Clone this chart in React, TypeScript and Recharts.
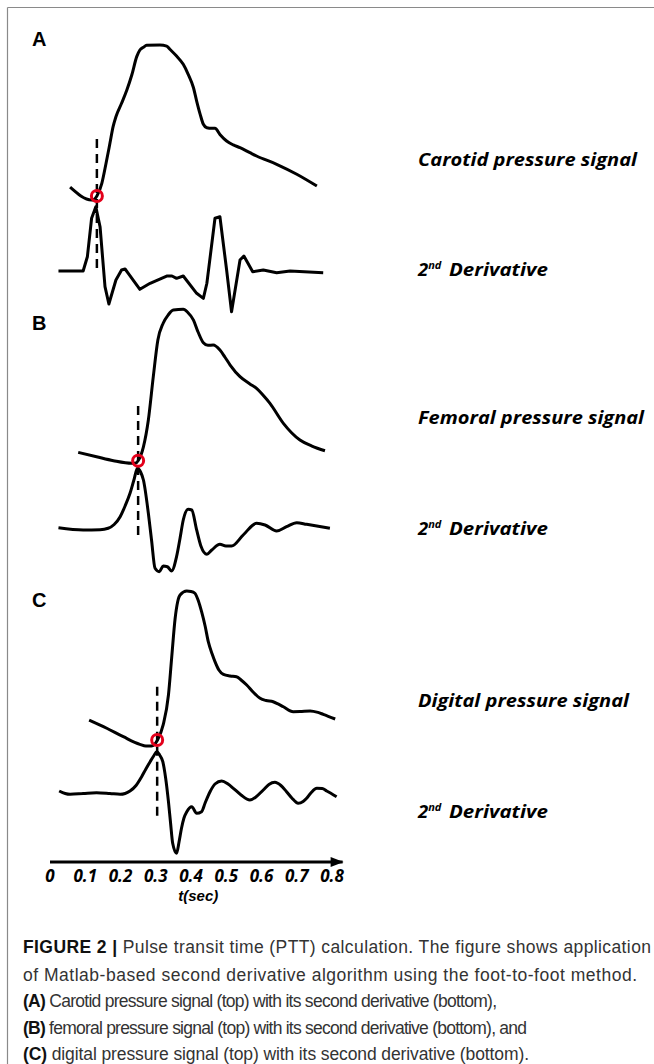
import React from 'react';
import { LineChart, Line, XAxis, YAxis, ReferenceLine, ReferenceDot, Label } from 'recharts';

// ---------- data (time in seconds, amplitude in normalised units) ----------
const timeTicks = [0, 0.1, 0.2, 0.3, 0.4, 0.5, 0.6, 0.7, 0.8];
const timeTickLabels = ['0', '0.1', '0.2', '0.3', '0.4', '0.5', '0.6', '0.7', '0.8'];

const carotidPressure: [number, number][] = [
  [0.057, 0.058], [0.118, -0.026], [0.125, -0.023], [0.133, 0], [0.147, 0.084], [0.159, 0.217],
  [0.170, 0.349], [0.179, 0.459], [0.187, 0.525], [0.203, 0.614], [0.218, 0.702], [0.232, 0.801],
  [0.246, 0.923], [0.255, 0.967], [0.265, 0.985], [0.274, 0.998], [0.312, 1.0], [0.331, 0.993],
  [0.340, 0.972], [0.359, 0.927], [0.378, 0.872], [0.392, 0.806], [0.407, 0.717], [0.416, 0.629],
  [0.426, 0.541], [0.435, 0.475], [0.445, 0.452], [0.459, 0.448], [0.468, 0.448], [0.482, 0.408],
  [0.501, 0.364], [0.520, 0.338], [0.539, 0.320], [0.567, 0.287], [0.586, 0.265], [0.643, 0.210],
  [0.700, 0.144], [0.757, 0.066],
];
const carotidDerivative: [number, number][] = [
  [0.024, 0], [0.094, 0], [0.106, 0.222], [0.118, 0.820], [0.130, 1.0], [0.142, 0.689],
  [0.156, -0.244], [0.167, -0.513], [0.187, -0.140], [0.203, 0.016], [0.213, 0.031], [0.222, -0.036],
  [0.255, -0.285], [0.284, -0.191], [0.331, -0.078], [0.346, -0.078], [0.359, -0.114], [0.378, -0.078],
  [0.416, -0.347], [0.435, -0.425], [0.445, -0.191], [0.468, 0.820], [0.482, 0.844], [0.501, 0.016],
  [0.515, -0.633], [0.539, 0.171], [0.550, 0.233], [0.575, -0.011], [0.605, 0.016], [0.643, -0.026],
  [0.681, 0], [0.775, -0.026],
];
const femoralPressure: [number, number][] = [
  [0.080, 0.055], [0.132, 0.026], [0.180, 0], [0.232, -0.017], [0.244, -0.015], [0.250, 0],
  [0.265, 0.092], [0.279, 0.269], [0.293, 0.555], [0.306, 0.797], [0.321, 0.908], [0.335, 0.962],
  [0.350, 0.995], [0.378, 1.0], [0.391, 0.979], [0.407, 0.929], [0.420, 0.850], [0.435, 0.779],
  [0.448, 0.762], [0.463, 0.764], [0.482, 0.731], [0.496, 0.685], [0.511, 0.632], [0.539, 0.555],
  [0.567, 0.507], [0.586, 0.478], [0.604, 0.434], [0.624, 0.379], [0.662, 0.247], [0.709, 0.137],
  [0.743, 0.097], [0.780, 0.066],
];
const femoralDerivative: [number, number][] = [
  [0.024, 0.021], [0.094, -0.016], [0.142, -0.012], [0.165, 0.012], [0.182, 0.074], [0.199, 0.203],
  [0.213, 0.379], [0.227, 0.588], [0.238, 0.807], [0.248, 1.0], [0.257, 0.939], [0.265, 0.807],
  [0.279, 0.259], [0.288, -0.181], [0.298, -0.647], [0.310, -0.703], [0.321, -0.610], [0.333, -0.621],
  [0.345, -0.692], [0.359, -0.456], [0.369, -0.148], [0.378, 0.148], [0.392, 0.325], [0.402, 0.313],
  [0.416, -0.016], [0.428, -0.280], [0.445, -0.417], [0.459, -0.346], [0.482, -0.252], [0.499, -0.280],
  [0.515, -0.280], [0.548, -0.099], [0.586, 0.094], [0.610, 0.066], [0.643, -0.033], [0.671, 0.038],
  [0.700, 0.104], [0.728, 0.077], [0.794, 0.012],
];
const digitalPressure: [number, number][] = [
  [0.111, 0.134], [0.161, 0.079], [0.208, 0.022], [0.255, -0.029], [0.272, -0.040], [0.288, -0.040],
  [0.305, 0], [0.321, 0.101], [0.336, 0.302], [0.345, 0.548], [0.355, 0.817], [0.362, 0.926],
  [0.369, 0.973], [0.388, 1.0], [0.400, 0.997], [0.411, 0.985], [0.421, 0.933], [0.430, 0.861],
  [0.440, 0.765], [0.449, 0.660], [0.460, 0.577], [0.468, 0.526], [0.479, 0.470], [0.492, 0.441],
  [0.511, 0.430], [0.529, 0.425], [0.542, 0.403], [0.558, 0.369], [0.576, 0.322], [0.596, 0.280],
  [0.613, 0.265], [0.633, 0.257], [0.647, 0.242], [0.662, 0.223], [0.690, 0.190], [0.709, 0.191],
  [0.738, 0.195], [0.760, 0.185], [0.775, 0.172], [0.809, 0.141],
];
const digitalDerivative: [number, number][] = [
  [0.026, 0.048], [0.043, -0.012], [0.057, -0.031], [0.094, -0.012], [0.132, 0.007], [0.170, -0.012],
  [0.199, -0.031], [0.213, -0.012], [0.227, 0.048], [0.244, 0.182], [0.260, 0.395], [0.272, 0.581],
  [0.284, 0.758], [0.294, 0.896], [0.303, 1.0], [0.311, 0.920], [0.320, 0.758], [0.328, 0.363],
  [0.336, -0.211], [0.342, -0.726], [0.348, -1.218], [0.359, -1.460], [0.366, -1.186], [0.373, -0.855],
  [0.380, -0.605], [0.388, -0.453], [0.402, -0.332], [0.416, -0.492], [0.430, -0.453], [0.440, -0.242],
  [0.454, 0.031], [0.468, 0.218], [0.487, 0.291], [0.505, 0.218], [0.520, 0.114], [0.542, -0.048],
  [0.567, -0.169], [0.584, -0.097], [0.605, 0.073], [0.621, 0.206], [0.638, 0.259], [0.655, 0.182],
  [0.671, 0.031], [0.686, -0.121], [0.704, -0.249], [0.718, -0.206], [0.728, -0.128], [0.740, 0],
  [0.757, 0.114], [0.772, 0.109], [0.785, 0.048], [0.813, -0.090],
];

const footTimes = [0.133, 0.25, 0.304];
const panelLetters = ['A', 'B', 'C'];
const signalNames = ['Carotid pressure signal', 'Femoral pressure signal', 'Digital pressure signal'];
const derivativeName = ['2', 'nd', 'Derivative'];
const axisTitle = 't(sec)';

// ---------- layout ----------
const W = 654;
const PLOT_LEFT = 50;
const PLOT_RIGHT = 342.6;
const T_MAX = 0.83;
const AXIS_H = 48;
const LABEL_FONT = "'Open Sans', 'DejaVu Sans', sans-serif";
const SANS = "'Liberation Sans', Arial, Helvetica, sans-serif";

const toPts = (arr: [number, number][]) => arr.map(([t, v]) => ({ t, v }));

type PanelCfg = {
  top: number; height: number; axis: boolean;
  pZero: number; pUnit: number; dZero: number; dUnit: number;
  dashTop: number; dashBottom: number;
  pressure: [number, number][]; deriv: [number, number][]; foot: number;
  derivCurve: 'linear' | 'monotone';
  labelY: number; derivLabelY: number; letterY: number; labelLen: number;
};

const panels: PanelCfg[] = [
  { top: 0, height: 330, axis: false, pZero: 196, pUnit: 151, dZero: 271, dUnit: 64.3,
    dashTop: 0.377, dashBottom: -0.477, pressure: carotidPressure, deriv: carotidDerivative,
    foot: footTimes[0], derivCurve: 'linear', labelY: 166, derivLabelY: 276, letterY: 46, labelLen: 219 },
  { top: 290, height: 310, axis: false, pZero: 460.7, pUnit: 151.4, dZero: 529, dUnit: 60.7,
    dashTop: 0.361, dashBottom: -0.497, pressure: femoralPressure, deriv: femoralDerivative,
    foot: footTimes[1], derivCurve: 'monotone', labelY: 424, derivLabelY: 535, letterY: 330, labelLen: 226 },
  { top: 575, height: 335, axis: true, pZero: 740, pUnit: 149, dZero: 793, dUnit: 41.3,
    dashTop: 0.358, dashBottom: -0.515, pressure: digitalPressure, deriv: digitalDerivative,
    foot: footTimes[2], derivCurve: 'monotone', labelY: 707, derivLabelY: 818, letterY: 607, labelLen: 211 },
];

const TimeTick = (props: any) => {
  const { x, y, payload } = props;
  const i = timeTicks.indexOf(payload.value);
  return (
    <text x={x} y={y + 20} textAnchor="middle" fontFamily={LABEL_FONT} fontWeight={700}
      fontStyle="italic" fontSize={17} fill="#000">
      {i >= 0 ? timeTickLabels[i] : String(payload.value)}
    </text>
  );
};

const ArrowHead = (props: any) => {
  const { cx, cy } = props;
  return <polygon points={`${cx - 12},${cy - 5} ${cx + 1},${cy} ${cx - 12},${cy + 5}`} fill="#000" />;
};

function Panel({ cfg }: { cfg: PanelCfg }) {
  const plotTop = cfg.top;
  const plotBottom = cfg.top + cfg.height - (cfg.axis ? AXIS_H : 0);
  const pDom: [number, number] = [(cfg.pZero - plotBottom) / cfg.pUnit, (cfg.pZero - plotTop) / cfg.pUnit];
  const dDom: [number, number] = [(cfg.dZero - plotBottom) / cfg.dUnit, (cfg.dZero - plotTop) / cfg.dUnit];
  return (
    <div style={{ position: 'absolute', left: 0, top: cfg.top }}>
      <LineChart width={W} height={cfg.height}
        margin={{ top: 0, right: W - PLOT_RIGHT, bottom: 0, left: PLOT_LEFT }}>
        <XAxis type="number" dataKey="t" domain={[0, T_MAX]} allowDataOverflow
          hide={!cfg.axis} ticks={timeTicks} interval={0} height={AXIS_H}
          axisLine={{ stroke: '#000', strokeWidth: 3 }} tickLine={false}
          tickSize={0} tickMargin={0} tick={<TimeTick />}>
          {cfg.axis && (
            <Label value={axisTitle} position="insideBottom" offset={9} dx={2} fontFamily={SANS}
              fontSize={15} fontWeight={700} fontStyle="italic" fill="#000" />
          )}
        </XAxis>
        <YAxis yAxisId="p" type="number" domain={pDom} allowDataOverflow hide />
        <YAxis yAxisId="d" type="number" domain={dDom} allowDataOverflow hide />
        <ReferenceLine yAxisId="p" ifOverflow="visible"
          segment={[{ x: cfg.foot, y: cfg.dashTop }, { x: cfg.foot, y: cfg.dashBottom }]}
          stroke="#000" strokeWidth={2.5} strokeDasharray="9 6" />
        <Line yAxisId="p" data={toPts(cfg.pressure)} dataKey="v" type="monotone" stroke="#000"
          strokeWidth={3} dot={false} activeDot={false} isAnimationActive={false} />
        <Line yAxisId="d" data={toPts(cfg.deriv)} dataKey="v" type={cfg.derivCurve} stroke="#000"
          strokeWidth={3} dot={false} activeDot={false} isAnimationActive={false} strokeLinejoin="round" />
        <ReferenceDot yAxisId="p" x={cfg.foot} y={0} r={5.5} fill="none" stroke="#e3001b"
          strokeWidth={3} ifOverflow="visible" />
        {cfg.axis && (
          <ReferenceDot yAxisId="d" x={T_MAX} y={dDom[0]} r={5} ifOverflow="visible" shape={<ArrowHead />} />
        )}
      </LineChart>
    </div>
  );
}

const captionLines: [string, string][] = [
  ['FIGURE 2 |', ' Pulse transit time (PTT) calculation. The figure shows application'],
  ['', 'of Matlab-based second derivative algorithm using the foot-to-foot method.'],
  ['(A)', ' Carotid pressure signal (top) with its second derivative (bottom),'],
  ['(B)', ' femoral pressure signal (top) with its second derivative (bottom), and'],
  ['(C)', ' digital pressure signal (top) with its second derivative (bottom).'],
];
const captionLens = [628, 614, 474, 504, 506];
const captionY = [953, 980.5, 1007, 1033.5, 1059.5];

export default function App() {
  return (
    <div style={{ position: 'absolute', left: 0, top: 0, width: W, height: 1064, background: '#fff',
      fontFamily: SANS, overflow: 'hidden' }}>
      {panels.map((p, i) => <Panel key={i} cfg={p} />)}
      <svg width={W} height={1064} style={{ position: 'absolute', left: 0, top: 0, pointerEvents: 'none' }}>
        <line x1={7.5} y1={7.5} x2={W} y2={7.5} stroke="#8a8a8a" strokeWidth={1.2} />
        <line x1={7.5} y1={7.5} x2={7.5} y2={1064} stroke="#8a8a8a" strokeWidth={1.2} />
        {panels.map((p, i) => (
          <g key={i}>
            <text x={32} y={p.letterY} fontFamily={SANS} fontWeight={700} fontSize={20} fill="#000">
              {panelLetters[i]}
            </text>
            <text x={418} y={p.labelY} fontFamily={LABEL_FONT} fontWeight={700} fontStyle="italic"
              fontSize={18.5} fill="#000" textLength={p.labelLen} lengthAdjust="spacingAndGlyphs">
              {signalNames[i]}
            </text>
            <text x={418} y={p.derivLabelY} fontFamily={LABEL_FONT} fontWeight={700} fontStyle="italic"
              fontSize={18.5} fill="#000">
              <tspan>{derivativeName[0]}</tspan>
              <tspan dy={-7} fontSize={11}>{derivativeName[1]}</tspan>
              <tspan x={449} dy={7} textLength={99} lengthAdjust="spacingAndGlyphs">{derivativeName[2]}</tspan>
            </text>
          </g>
        ))}
        {captionLines.map(([b, r], i) => (
          <text key={i} x={23} y={captionY[i]} fontFamily={SANS} fontSize={17.5} fill="#333"
            textLength={captionLens[i]} lengthAdjust="spacing">
            {b && <tspan fontWeight={700} fill="#111">{b}</tspan>}
            <tspan>{r}</tspan>
          </text>
        ))}
      </svg>
    </div>
  );
}
